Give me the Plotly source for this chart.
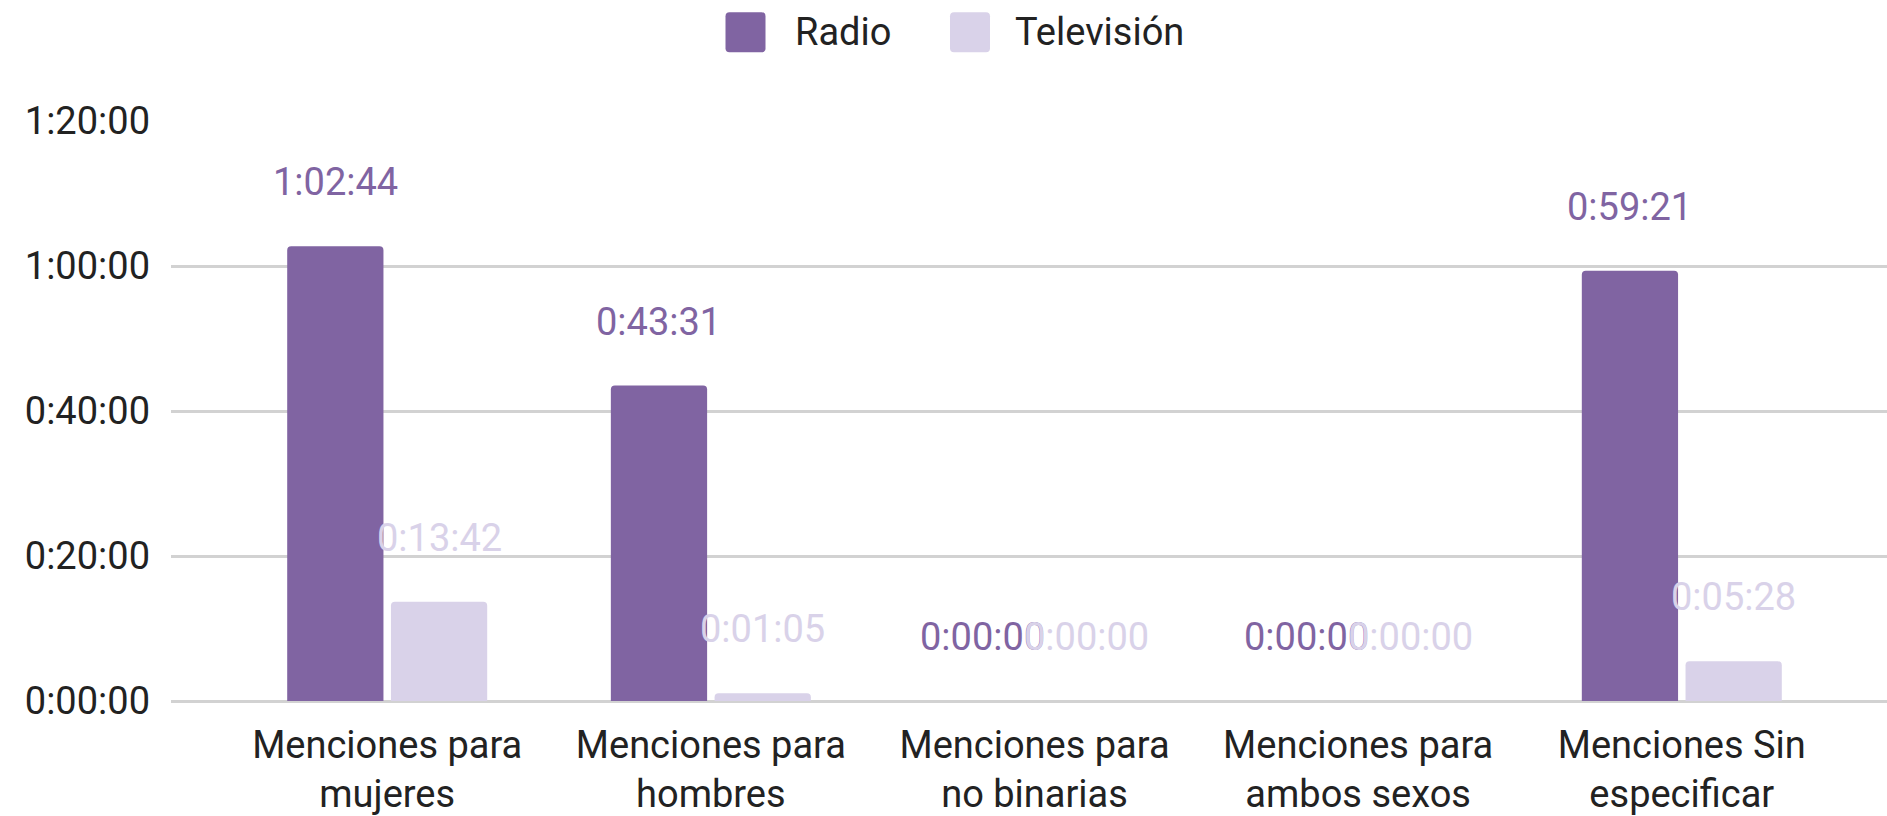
import plotly.graph_objects as go

# Categories and durations (seconds) per medium
categories = [
    "Menciones para<br>mujeres",
    "Menciones para<br>hombres",
    "Menciones para<br>no binarias",
    "Menciones para<br>ambos sexos",
    "Menciones Sin<br>especificar",
]
radio_seconds = [3764, 2611, 0, 0, 3561]
tv_seconds = [822, 65, 0, 0, 328]
y_tick_seconds = [0, 1200, 2400, 3600, 4800]

RADIO_COLOR = "#8064A2"
TV_COLOR = "#D9D2E9"
TEXT_COLOR = "#222222"
GRID_COLOR = "#d2d2d2"
FONT = "Roboto, Arial, sans-serif"
FS = 38

W, H = 1887, 816
ML, MR, MT, MB = 171, 0, 121, 113
PLOT_W = W - ML - MR
PLOT_H = H - MT - MB

X_RANGE = [-0.668, 4.634]
BARGAP = 0.359
BARGROUPGAP = 0.072


def hms(sec):
    h, rem = divmod(int(sec), 3600)
    m, s = divmod(rem, 60)
    return f"{h}:{m:02d}:{s:02d}"


def px_x(px):
    return (px - ML) / PLOT_W


def px_y(py):
    return (H - MB - py) / PLOT_H


fig = go.Figure()
fig.add_trace(go.Bar(
    name="Radio", x=categories, y=radio_seconds,
    marker=dict(color=RADIO_COLOR, cornerradius=4, line=dict(width=0)),
    hoverinfo="skip", showlegend=False,
))
fig.add_trace(go.Bar(
    name="Televisión", x=categories, y=tv_seconds,
    marker=dict(color=TV_COLOR, cornerradius=4, line=dict(width=0)),
    hoverinfo="skip", showlegend=False,
))

# value labels floating above each bar
px_per_cat = PLOT_W / (X_RANGE[1] - X_RANGE[0])
bar_offset = (1 - BARGAP) * px_per_cat / 4
annotations = []
for series, color, sign in ((radio_seconds, RADIO_COLOR, -1), (tv_seconds, TV_COLOR, 1)):
    for cat, val in zip(categories, series):
        annotations.append(dict(
            x=cat, y=val, xref="x", yref="y", text=hms(val), showarrow=False,
            xanchor="center", yanchor="middle", xshift=sign * bar_offset, yshift=64,
            font=dict(family=FONT, size=FS, color=color),
        ))

# legend drawn as large rounded squares with text beside them
shapes = []
sq = 20
r = 4
square_path = (
    f"M{-sq + r},{-sq} L{sq - r},{-sq} Q{sq},{-sq} {sq},{-sq + r} "
    f"L{sq},{sq - r} Q{sq},{sq} {sq - r},{sq} L{-sq + r},{sq} "
    f"Q{-sq},{sq} {-sq},{sq - r} L{-sq},{-sq + r} Q{-sq},{-sq} {-sq + r},{-sq} Z"
)
for name, color, cx, tx in (("Radio", RADIO_COLOR, 745.5, 793),
                            ("Televisión", TV_COLOR, 970, 1013)):
    shapes.append(dict(
        type="path", xref="paper", yref="paper", xsizemode="pixel", ysizemode="pixel",
        xanchor=px_x(cx), yanchor=px_y(32), path=square_path,
        fillcolor=color, line=dict(width=0), layer="above",
    ))
    annotations.append(dict(
        x=px_x(tx), y=px_y(32), xref="paper", yref="paper", text=name,
        showarrow=False, xanchor="left", yanchor="middle",
        font=dict(family=FONT, size=FS, color=TEXT_COLOR),
    ))

fig.update_layout(
    width=W, height=H,
    margin=dict(l=ML, r=MR, t=MT, b=MB, pad=0),
    paper_bgcolor="white", plot_bgcolor="white",
    barmode="group", bargap=BARGAP, bargroupgap=BARGROUPGAP,
    showlegend=False,
    font=dict(family=FONT, size=FS, color=TEXT_COLOR),
    annotations=annotations, shapes=shapes,
    xaxis=dict(
        range=X_RANGE, showgrid=False, zeroline=False, showline=False,
        ticks="", tickfont=dict(family=FONT, size=FS, color=TEXT_COLOR),
        ticklabelstandoff=18,
    ),
    yaxis=dict(
        range=[0, 4800], tickmode="array", tickvals=y_tick_seconds,
        ticktext=[hms(v) for v in y_tick_seconds],
        showgrid=True, gridcolor=GRID_COLOR, gridwidth=3,
        zeroline=True, zerolinecolor=GRID_COLOR, zerolinewidth=3,
        showline=False, ticks="", ticklabelstandoff=20,
        tickfont=dict(family=FONT, size=FS, color=TEXT_COLOR),
    ),
)

fig.write_html("out.html")
